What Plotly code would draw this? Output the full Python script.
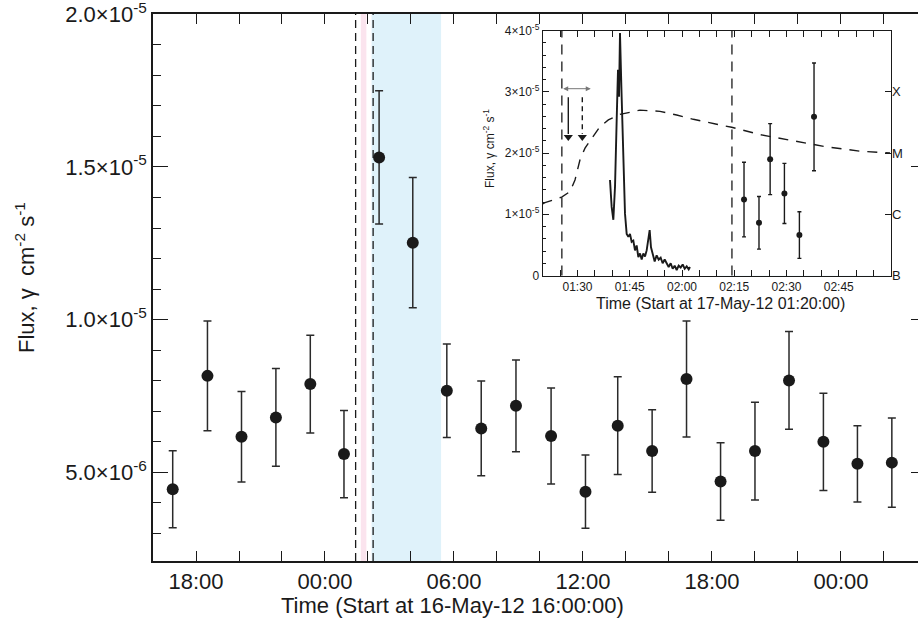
import plotly.graph_objects as go
import pandas as pd

FONT = "Liberation Sans, Arial, Helvetica, sans-serif"
INK = "#1a1a1a"

# ---------------- main panel data ----------------
main_times = ["2012-05-16 16:55", "2012-05-16 18:32", "2012-05-16 20:07", "2012-05-16 21:43",
              "2012-05-16 23:19", "2012-05-17 00:53", "2012-05-17 02:31", "2012-05-17 04:05",
              "2012-05-17 05:40", "2012-05-17 07:16", "2012-05-17 08:53", "2012-05-17 10:31",
              "2012-05-17 12:07", "2012-05-17 13:37", "2012-05-17 15:13", "2012-05-17 16:49",
              "2012-05-17 18:24", "2012-05-17 20:00", "2012-05-17 21:35", "2012-05-17 23:11",
              "2012-05-18 00:46", "2012-05-18 02:22"]
main_flux = [4.45e-6, 8.16e-6, 6.17e-6, 6.80e-6, 7.89e-6, 5.60e-6, 1.531e-5, 1.252e-5,
             7.67e-6, 6.44e-6, 7.18e-6, 6.19e-6, 4.37e-6, 6.53e-6, 5.70e-6, 8.06e-6,
             4.70e-6, 5.70e-6, 8.01e-6, 6.00e-6, 5.28e-6, 5.32e-6]
main_err = [1.26e-6, 1.80e-6, 1.48e-6, 1.60e-6, 1.60e-6, 1.43e-6, 2.18e-6, 2.13e-6,
            1.53e-6, 1.55e-6, 1.50e-6, 1.57e-6, 1.20e-6, 1.60e-6, 1.35e-6, 1.90e-6,
            1.27e-6, 1.60e-6, 1.60e-6, 1.59e-6, 1.25e-6, 1.46e-6]
main_bin_half_minutes = 20
main_yticks = [5e-6, 1.0e-5, 1.5e-5, 2.0e-5]
main_yticktext = ["5.0×10<sup>-6</sup>", "1.0×10<sup>-5</sup>", "1.5×10<sup>-5</sup>", "2.0×10<sup>-5</sup>"]

# highlighted intervals (shared by both panels)
flare_band = ["2012-05-17 01:40:00", "2012-05-17 01:55:30"]
lat_band_main = ["2012-05-17 02:10:00", "2012-05-17 05:24:00"]
lat_band_inset = ["2012-05-17 02:10:00", "2012-05-17 03:00:00"]
dashed_times = ["2012-05-17 01:25:30", "2012-05-17 02:14:20"]

# ---------------- inset data ----------------
inset_start = "2012-05-17 01:20:00"
inset_xticks = ["2012-05-17 01:30", "2012-05-17 01:45", "2012-05-17 02:00",
                "2012-05-17 02:15", "2012-05-17 02:30", "2012-05-17 02:45"]
inset_xticktext = ["01:30", "01:45", "02:00", "02:15", "02:30", "02:45"]
lc_minutes = [19.32, 19.80, 20.28, 20.76, 21.24, 21.62, 21.91, 22.19, 22.58, 22.86, 23.15, 23.63,
              24.11, 24.59, 25.06, 25.54, 26.02, 26.50, 26.98, 27.46, 27.94, 28.42, 28.89, 29.37,
              29.85, 30.33, 30.71, 31.09, 31.57, 32.15, 32.72, 33.30, 33.87, 34.44, 35.02, 35.59,
              36.17, 36.74, 37.32, 37.89, 38.47, 39.04, 39.61, 40.19, 40.76, 41.34, 41.91, 42.29]
lc_flux = [1.56e-5, 1.12e-5, 0.91e-5, 1.45e-5, 2.54e-5, 3.36e-5, 2.92e-5, 3.96e-5, 3.09e-5, 2.54e-5,
           1.67e-5, 1.01e-5, 0.68e-5, 0.63e-5, 0.68e-5, 0.55e-5, 0.57e-5, 0.41e-5, 0.49e-5, 0.30e-5,
           0.36e-5, 0.26e-5, 0.36e-5, 0.31e-5, 0.41e-5, 0.57e-5, 0.74e-5, 0.46e-5, 0.36e-5, 0.23e-5,
           0.33e-5, 0.26e-5, 0.29e-5, 0.20e-5, 0.26e-5, 0.19e-5, 0.14e-5, 0.20e-5, 0.11e-5, 0.16e-5,
           0.09e-5, 0.16e-5, 0.13e-5, 0.18e-5, 0.11e-5, 0.15e-5, 0.10e-5, 0.14e-5]
goes_minutes = [0.0, 0.66, 5.45, 7.84, 9.27, 10.71, 12.15, 14.06, 16.45, 18.85, 22.19, 27.94,
                33.68, 38.47, 43.25, 49.95, 54.26, 62.39, 71.96, 81.53, 91.10, 99.71]
goes_level = [1.17e-5, 1.19e-5, 1.28e-5, 1.37e-5, 1.56e-5, 1.89e-5, 2.08e-5, 2.24e-5, 2.43e-5,
              2.54e-5, 2.63e-5, 2.70e-5, 2.68e-5, 2.62e-5, 2.55e-5, 2.47e-5, 2.42e-5, 2.30e-5,
              2.20e-5, 2.10e-5, 2.03e-5, 2.00e-5]
lat_minutes = [57.8, 62.1, 65.3, 69.4, 73.7, 77.9]
lat_flux = [1.24e-5, 0.86e-5, 1.90e-5, 1.34e-5, 0.66e-5, 2.59e-5]
lat_err = [0.61e-5, 0.43e-5, 0.58e-5, 0.49e-5, 0.38e-5, 0.88e-5]
inset_yticks = [0, 1e-5, 2e-5, 3e-5, 4e-5]
inset_yticktext = ["0", "1×10<sup>-5</sup>", "2×10<sup>-5</sup>", "3×10<sup>-5</sup>", "4×10<sup>-5</sup>"]
goes_classes = ["B", "C", "M", "X"]
goes_class_levels = [0, 1e-5, 2e-5, 3e-5]
# arrows: interval marker (minutes) and two downward arrows (minutes, from, to)
interval_minutes = [5.45, 13.8]
interval_level = 3.05e-5
arrow_minutes = [7.35, 11.37]
arrow_from, arrow_to = 2.91e-5, 2.19e-5

t0 = pd.Timestamp(inset_start)
def to_time(mins):
    return [t0 + pd.Timedelta(minutes=m) for m in mins]

fig = go.Figure()

# main panel points
fig.add_trace(go.Scatter(
    x=pd.to_datetime(main_times), y=main_flux, mode="markers",
    marker=dict(size=12, color=INK),
    error_y=dict(type="data", array=main_err, color="#2a2a2a", thickness=1.5, width=4),
    error_x=dict(type="constant", value=main_bin_half_minutes * 60000, color="#2a2a2a",
                 thickness=1.5, width=4),
    xaxis="x", yaxis="y", showlegend=False, hoverinfo="skip"))

# right-hand tick marks of main panel (overlay axis)
fig.add_trace(go.Scatter(x=pd.to_datetime(main_times[:1]), y=main_flux[:1], mode="markers",
                         marker=dict(size=1, opacity=0), xaxis="x", yaxis="y3",
                         showlegend=False, hoverinfo="skip"))

# inset: GOES-like dashed curve (right scale)
fig.add_trace(go.Scatter(x=to_time(goes_minutes), y=goes_level, mode="lines",
                         line=dict(color=INK, width=1.4, dash="10px,8px"),
                         xaxis="x2", yaxis="y4", showlegend=False, hoverinfo="skip"))
# inset light curve
fig.add_trace(go.Scatter(x=to_time(lc_minutes), y=lc_flux, mode="lines",
                         line=dict(color=INK, width=1.9),
                         xaxis="x2", yaxis="y2", showlegend=False, hoverinfo="skip"))
# inset LAT points
fig.add_trace(go.Scatter(x=to_time(lat_minutes), y=lat_flux, mode="markers",
                         marker=dict(size=6, color=INK),
                         error_y=dict(type="data", array=lat_err, color=INK, thickness=1.4, width=2),
                         xaxis="x2", yaxis="y2", showlegend=False, hoverinfo="skip"))
# downward arrows (solid and dashed)
for m, dash in zip(arrow_minutes, ["solid", "5px,4px"]):
    fig.add_trace(go.Scatter(x=to_time([m, m]), y=[arrow_from, arrow_to + 0.12e-5], mode="lines",
                             line=dict(color=INK, width=1.4, dash=dash),
                             xaxis="x2", yaxis="y2", showlegend=False, hoverinfo="skip"))
    fig.add_trace(go.Scatter(x=to_time([m]), y=[arrow_to + 0.07e-5], mode="markers",
                             marker=dict(symbol="triangle-down", size=8, color=INK),
                             xaxis="x2", yaxis="y2", showlegend=False, hoverinfo="skip"))

shapes = []
# main panel bands and dashed lines
shapes.append(dict(type="rect", xref="x", yref="y domain", x0=flare_band[0], x1=flare_band[1],
                   y0=0, y1=1, fillcolor="#fbe4ee", line=dict(width=0), layer="below"))
shapes.append(dict(type="rect", xref="x", yref="y domain", x0=lat_band_main[0], x1=lat_band_main[1],
                   y0=0, y1=1, fillcolor="#dff2fa", line=dict(width=0), layer="below"))
for t in dashed_times:
    shapes.append(dict(type="line", xref="x", yref="y domain", x0=t, x1=t, y0=0, y1=1,
                       line=dict(color=INK, width=1.3, dash="8px,5px")))
# inset bands and dashed lines
shapes.append(dict(type="rect", xref="x2", yref="y2 domain", x0=flare_band[0], x1=flare_band[1],
                   y0=0, y1=1, fillcolor="#fbe4ee", line=dict(width=0), layer="below"))
shapes.append(dict(type="rect", xref="x2", yref="y2 domain", x0=lat_band_inset[0], x1=lat_band_inset[1],
                   y0=0, y1=1, fillcolor="#dff2fa", line=dict(width=0), layer="below"))
for t in dashed_times:
    shapes.append(dict(type="line", xref="x2", yref="y2 domain", x0=t, x1=t, y0=0, y1=1,
                       line=dict(color=INK, width=1.3, dash="10px,7px")))

annotations = [
    dict(text="Time (Start at 16-May-12 16:00:00)", xref="paper", yref="paper",
         x=(452 - 153) / 765, y=(561 - 605) / 547, xanchor="center", yanchor="middle",
         showarrow=False, font=dict(family=FONT, size=22, color=INK)),
    dict(text="Flux, γ  cm<sup>-2</sup> s<sup>-1</sup>", xref="paper", yref="paper",
         x=(25 - 153) / 765, y=(561 - 278) / 547, xanchor="center", yanchor="middle",
         textangle=-90, showarrow=False, font=dict(family=FONT, size=22, color=INK)),
    dict(text="Time (Start at 17-May-12 01:20:00)", xref="paper", yref="paper",
         x=(720 - 153) / 765, y=(561 - 303) / 547, xanchor="center", yanchor="middle",
         showarrow=False, font=dict(family=FONT, size=16, color=INK)),
    dict(text="Flux, γ cm<sup>-2</sup> s<sup>-1</sup>", xref="paper", yref="paper",
         x=(489 - 153) / 765, y=(561 - 149) / 547, xanchor="center", yanchor="middle",
         textangle=-90, showarrow=False, font=dict(family=FONT, size=12, color=INK)),
    dict(x=to_time([interval_minutes[1]])[0], y=interval_level, ax=to_time([interval_minutes[0]])[0],
         ay=interval_level, xref="x2", yref="y2", axref="x2", ayref="y2", text="",
         showarrow=True, arrowhead=2, startarrowhead=2, arrowside="end+start",
         arrowsize=1, arrowwidth=1, arrowcolor="#777777"),
]

axis_common = dict(showgrid=False, zeroline=False, automargin=False, linecolor=INK, tickcolor=INK,
                   ticklabeloverflow="allow")

fig.update_layout(
    template="none",
    font=dict(family=FONT, color=INK),
    width=918, height=633, margin=dict(l=153, r=0, t=14, b=72, autoexpand=False),
    paper_bgcolor="white", plot_bgcolor="white", showlegend=False,
    shapes=shapes, annotations=annotations,
    xaxis=dict(**axis_common, type="date", domain=[0, 1], anchor="y",
               range=["2012-05-16 16:00", "2012-05-18 03:35"],
               showline=True, linewidth=1.5, mirror="allticks",
               ticks="inside", ticklen=10, tickwidth=1.3,
               tick0="2012-05-16 18:00", dtick=6 * 3600000, tickformat="%H:%M",
               tickfont=dict(family=FONT, size=22, color=INK),
               minor=dict(ticks="inside", ticklen=5, tickwidth=1.2, tickcolor=INK,
                          tick0="2012-05-16 16:00", dtick=2 * 3600000)),
    yaxis=dict(**axis_common, domain=[0, 1], anchor="x", range=[2.1e-6, 2.0005e-5],
               showline=True, linewidth=1.5, mirror=False,
               ticks="inside", ticklen=15, tickwidth=1.3,
               tickmode="array", tickvals=main_yticks, ticktext=main_yticktext,
               tickfont=dict(family=FONT, size=22, color=INK),
               minor=dict(ticks="inside", ticklen=8, tickwidth=1.2, tickcolor=INK,
                          tick0=0, dtick=1e-6)),
    yaxis3=dict(**axis_common, overlaying="y", anchor="x", side="right", range=[2.1e-6, 2.0005e-5],
                showline=False, ticks="inside", ticklen=7, tickwidth=1.3,
                tickmode="array", tickvals=main_yticks, showticklabels=False),
    xaxis2=dict(**axis_common, type="date", domain=[(542.7 - 153) / 765, (891 - 153) / 765], anchor="y2",
                range=["2012-05-17 01:20", "2012-05-17 03:00"],
                showline=True, linewidth=1, mirror="allticks",
                ticks="inside", ticklen=6, tickwidth=1,
                tickmode="array", tickvals=inset_xticks, ticktext=inset_xticktext,
                tickfont=dict(family=FONT, size=12, color=INK),
                minor=dict(ticks="inside", ticklen=3, tickwidth=1, tickcolor=INK,
                           tickmode="linear", tick0="2012-05-17 01:20", dtick=5 * 60000)),
    yaxis2=dict(**axis_common, domain=[(561 - 275.5) / 547, (561 - 30.5) / 547], anchor="x2",
                range=[0, 4e-5], showline=True, linewidth=1, mirror=True,
                ticks="inside", ticklen=6, tickwidth=1,
                tickmode="array", tickvals=inset_yticks, ticktext=inset_yticktext,
                tickfont=dict(family=FONT, size=12, color=INK),
                minor=dict(ticks="inside", ticklen=3, tickwidth=1, tickcolor=INK,
                           tickmode="linear", tick0=0, dtick=2e-6)),
    yaxis4=dict(**axis_common, overlaying="y2", anchor="x2", side="right", range=[0, 4e-5],
                showline=False, ticks="inside", ticklen=6, tickwidth=1,
                tickmode="array", tickvals=goes_class_levels, ticktext=goes_classes,
                tickfont=dict(family=FONT, size=13, color=INK)),
)

fig.write_html("out.html")
